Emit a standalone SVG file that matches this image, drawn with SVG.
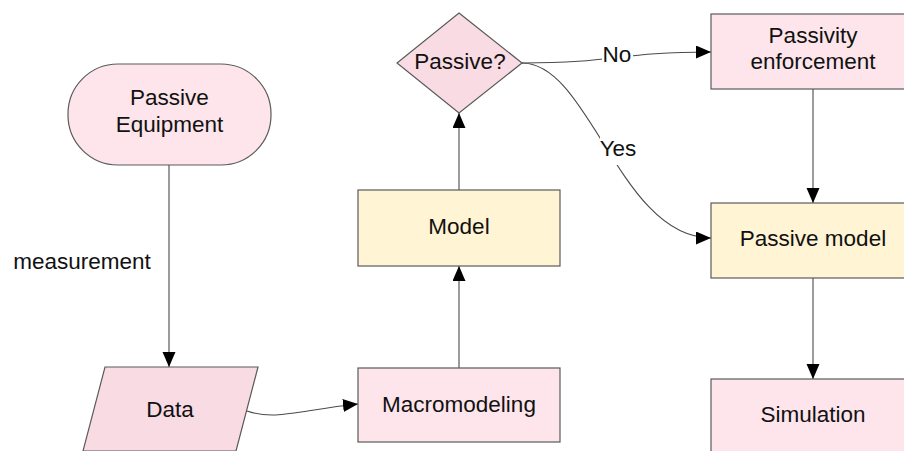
<svg xmlns="http://www.w3.org/2000/svg" width="904" height="451" viewBox="0 0 904 451">
<style>
.t{font-family:"Liberation Sans",Arial,sans-serif;font-size:22.5px;fill:#111;text-anchor:middle}
.n{stroke:#5a5a5a;stroke-width:1.2}
.c{fill:none;stroke:#4a4a4a;stroke-width:1.1}
.pink{fill:#fde5eb}
.pink2{fill:#f9dbe3}
.yel{fill:#fff4d4}
</style>
<defs>
<marker id="ah" markerUnits="userSpaceOnUse" markerWidth="16" markerHeight="14" refX="15" refY="6.5" orient="auto">
<path d="M0,0 L15,6.5 L0,13 z" fill="#000"/>
</marker>
</defs>
<rect width="904" height="451" fill="#fff"/>
<g id="connectors">
<path class="c" d="M169,165 L169,367" marker-end="url(#ah)"/>
<path class="c" d="M247,411 C275,421 300,410 358,404" marker-end="url(#ah)"/>
<path class="c" d="M459,368 L459,266" marker-end="url(#ah)"/>
<path class="c" d="M459,190 L459,113" marker-end="url(#ah)"/>
<path class="c" d="M522,63 C617,63 617,52 711,52" marker-end="url(#ah)"/>
<path class="c" d="M522,63 C590,63 620,238 711,238" marker-end="url(#ah)"/>
<path class="c" d="M813,89 L813,203" marker-end="url(#ah)"/>
<path class="c" d="M813,278 L813,379" marker-end="url(#ah)"/>
<rect x="602" y="42" width="31" height="26" fill="#fff"/>
<text class="t" x="617" y="62">No</text>
<rect x="600" y="137" width="37" height="28" fill="#fff"/>
<text class="t" x="618" y="156">Yes</text>
<text class="t" x="82" y="269">measurement</text>
</g>
<g id="passive-equipment">
<rect class="n pink" x="68" y="64" width="203" height="101" rx="50" ry="50"/>
<text class="t" x="169.5" y="105">Passive</text>
<text class="t" x="169.5" y="132">Equipment</text>
</g>
<g id="data">
<path class="n pink2" d="M105,367 L258,367 L236,451 L83,451 z"/>
<text class="t" x="170" y="417">Data</text>
</g>
<g id="macromodeling">
<rect class="n pink" x="358" y="368" width="202" height="74"/>
<text class="t" x="459" y="412">Macromodeling</text>
</g>
<g id="model">
<rect class="n yel" x="358" y="190" width="202" height="76"/>
<text class="t" x="459" y="234">Model</text>
</g>
<g id="passive-decision">
<path class="n pink2" d="M459,13 L522,63 L459,113 L397,63 z"/>
<text class="t" x="460" y="69">Passive?</text>
</g>
<g id="passivity-enforcement">
<rect class="n pink" x="711" y="14" width="202" height="75"/>
<text class="t" x="813" y="43">Passivity</text>
<text class="t" x="813" y="69">enforcement</text>
</g>
<g id="passive-model">
<rect class="n yel" x="711" y="203" width="202" height="75"/>
<text class="t" x="813" y="246">Passive model</text>
</g>
<g id="simulation">
<rect class="n pink" x="711" y="379" width="202" height="80"/>
<text class="t" x="813" y="422">Simulation</text>
</g>
</svg>
